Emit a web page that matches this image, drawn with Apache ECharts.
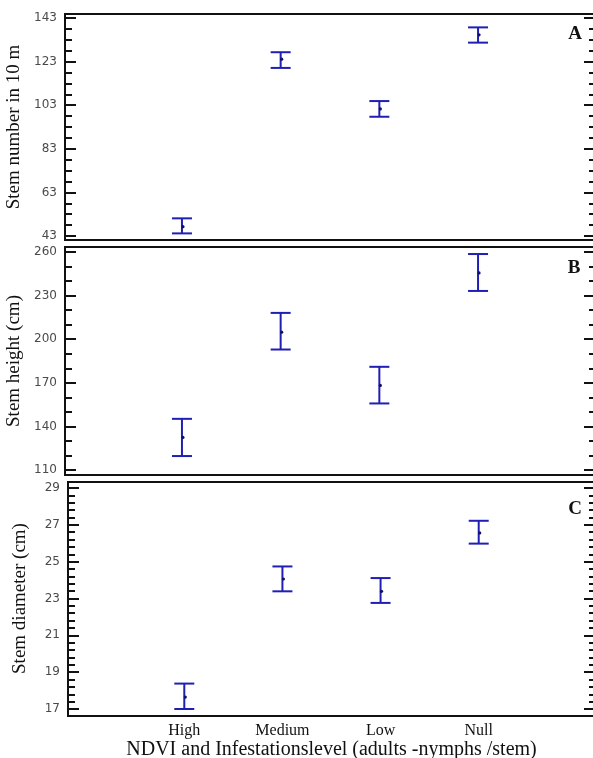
<!DOCTYPE html>
<html>
<head>
<meta charset="utf-8">
<script src="https://cdn.jsdelivr.net/npm/echarts@6/dist/echarts.min.js"></script>
<style>
  html, body { margin: 0; padding: 0; background: #fff; }
  #chart { width: 593px; height: 758px; }
</style>
</head>
<body>
<div id="chart"></div>
<script>
// categories on the x axis (placed at 1..4)
var categories = ['High', 'Medium', 'Low', 'Null'];

// A - stem number in 10 m
var numberMean = [47.3, 124.1, 101.3, 135.3];
var numberLow  = [44.2, 120.1, 97.7, 131.7];
var numberHigh = [51.1, 127.3, 104.9, 138.7];

// B - stem height (cm)
var heightMean = [132.4, 204.8, 168.2, 245.6];
var heightLow  = [119.6, 192.9, 155.8, 233.2];
var heightHigh = [145.2, 218.1, 181.0, 258.6];

// C - stem diameter (cm)
var diamMean = [17.65, 24.06, 23.39, 26.56];
var diamLow  = [17.0, 23.39, 22.76, 25.98];
var diamHigh = [18.38, 24.74, 24.11, 27.22];

var blue = '#1f1fb4';
var serif = 'Liberation Serif';

function toData(mean, low, high) {
  return categories.map(function (c, i) {
    return [i + 1, mean[i], low[i], high[i]];
  });
}

// error bar: vertical line, two caps, small dot at the mean
function renderBar(params, api) {
  var x = api.value(0);
  var pm = api.coord([x, api.value(1)]);
  var pl = api.coord([x, api.value(2)]);
  var ph = api.coord([x, api.value(3)]);
  var hw = 10;
  var st = { stroke: blue, lineWidth: 2 };
  return {
    type: 'group',
    children: [
      { type: 'line', shape: { x1: pl[0], y1: pl[1], x2: ph[0], y2: ph[1] }, style: st },
      { type: 'line', shape: { x1: ph[0] - hw, y1: ph[1], x2: ph[0] + hw, y2: ph[1] }, style: st },
      { type: 'line', shape: { x1: pl[0] - hw, y1: pl[1], x2: pl[0] + hw, y2: pl[1] }, style: st },
      { type: 'circle', shape: { cx: pm[0] + 1, cy: pm[1], r: 1.6 }, style: { fill: '#111166' } }
    ]
  };
}

function xAx(idx, showLabels) {
  return {
    type: 'value', gridIndex: idx, min: -0.185, max: 5.185,
    axisLine: { show: false, onZero: false }, axisTick: { show: false }, splitLine: { show: false },
    axisLabel: {
      show: showLabels, margin: 14,
      customValues: [1, 2, 3, 4],
      fontFamily: serif, fontSize: 16, color: '#111',
      formatter: function (v) { return categories[v - 1] || ''; }
    },
    name: showLabels ? 'NDVI and Infestationslevel (adults -nymphs /stem)' : '',
    nameLocation: 'middle', nameGap: 30,
    nameTextStyle: { fontFamily: serif, fontSize: 20, color: '#111' }
  };
}

function yAx(idx, min, max, interval, minorSplit, name, gap) {
  return {
    type: 'value', gridIndex: idx, position: 'left', min: min, max: max, interval: interval,
    axisLine: { show: true, onZero: false, lineStyle: { color: '#111', width: 2 } },
    axisTick: { show: true, inside: true, length: 11, lineStyle: { color: '#111', width: 2 } },
    minorTick: { show: true, splitNumber: minorSplit, length: 7, lineStyle: { color: '#111', width: 2 } },
    splitLine: { show: false },
    axisLabel: { margin: 8, fontFamily: 'DejaVu Sans', fontSize: 12, color: '#4a4a4a' },
    name: name, nameLocation: 'middle', nameGap: gap,
    nameTextStyle: { fontFamily: serif, fontSize: 19, color: '#111' }
  };
}

function yRight(idx, min, max, interval, minorSplit) {
  return {
    type: 'value', gridIndex: idx, position: 'right', min: min, max: max, interval: interval,
    axisLine: { show: true, onZero: false, lineStyle: { color: '#111', width: 2 } },
    axisTick: { show: true, inside: true, length: 11, lineStyle: { color: '#111', width: 2 } },
    minorTick: { show: true, splitNumber: minorSplit, length: 6, lineStyle: { color: '#111', width: 2 } },
    splitLine: { show: false },
    axisLabel: { show: false }
  };
}

function frame(x, y, w, h) {
  return { type: 'rect', shape: { x: x, y: y, width: w, height: h },
           style: { fill: null, stroke: '#111', lineWidth: 2 }, z: 10 };
}

function letter(t, x, y) {
  return { type: 'text', x: x, y: y, z: 10,
           style: { text: t, font: 'bold 19px "Liberation Serif"', fill: '#111', textAlign: 'center', textVerticalAlign: 'middle' } };
}

var option = {
  animation: false,
  grid: [
    { left: 65, right: -2, top: 18, height: 218, outerBoundsMode: 'none' },
    { left: 65, right: -2, top: 252, height: 218, outerBoundsMode: 'none' },
    { left: 68, right: -2, top: 488, height: 221, outerBoundsMode: 'none' }
  ],
  xAxis: [xAx(0, false), xAx(1, false), xAx(2, true)],
  yAxis: [
    yAx(0, 43, 143, 20, 4, 'Stem number in 10 m', 36),
    yAx(1, 110, 260, 30, 3, 'Stem height (cm)', 36),
    yAx(2, 17, 29, 2, 5, 'Stem diameter (cm)', 38),
    yRight(0, 43, 143, 20, 4),
    yRight(1, 110, 260, 30, 3),
    yRight(2, 17, 29, 2, 5)
  ],
  graphic: [
    frame(65, 14, 530, 226),
    frame(65, 247, 530, 228),
    frame(68, 482, 527, 234),
    letter('A', 575, 34),
    letter('B', 574, 268),
    letter('C', 575, 509)
  ],
  series: [
    { type: 'custom', xAxisIndex: 0, yAxisIndex: 0, renderItem: renderBar,
      encode: { x: 0, y: [1, 2, 3] }, data: toData(numberMean, numberLow, numberHigh) },
    { type: 'custom', xAxisIndex: 1, yAxisIndex: 1, renderItem: renderBar,
      encode: { x: 0, y: [1, 2, 3] }, data: toData(heightMean, heightLow, heightHigh) },
    { type: 'custom', xAxisIndex: 2, yAxisIndex: 2, renderItem: renderBar,
      encode: { x: 0, y: [1, 2, 3] }, data: toData(diamMean, diamLow, diamHigh) }
  ]
};

var myChart = echarts.init(document.getElementById('chart'));
myChart.setOption(option);
</script>
</body>
</html>
